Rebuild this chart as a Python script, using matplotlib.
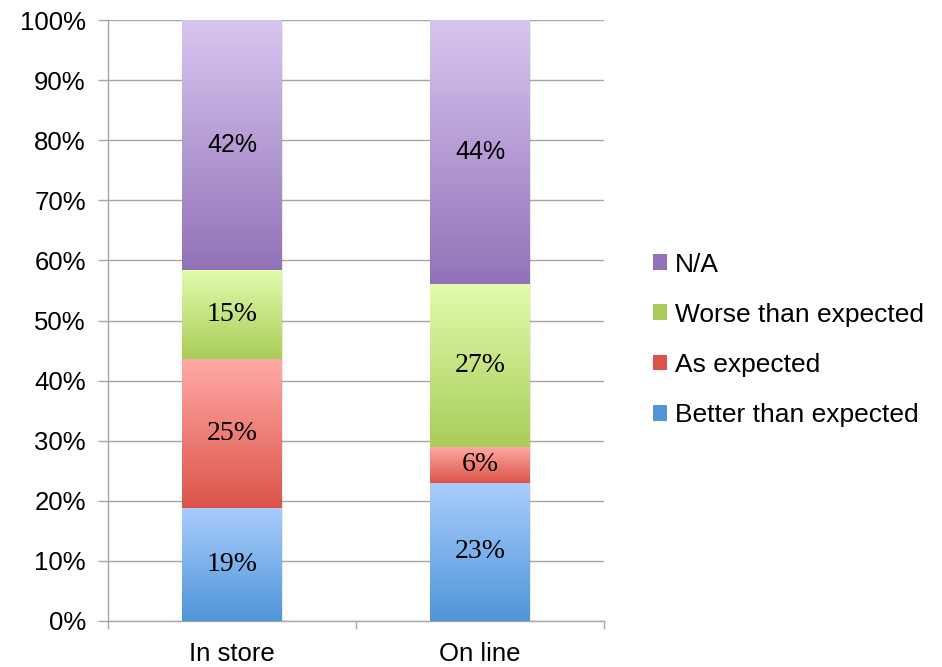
import numpy as np
import matplotlib.pyplot as plt
from matplotlib.colors import LinearSegmentedColormap
from matplotlib.patches import Patch
from matplotlib.ticker import MultipleLocator, FixedLocator, PercentFormatter

categories = ['In store', 'On line']
series = ['Better than expected', 'As expected', 'Worse than expected', 'N/A']
better = [19, 23]
as_expected = [25, 6]
worse = [15, 27]
na = [42, 44]

# (top colour, bottom colour) of each segment's gradient
grads = {
    'Better than expected': ('#aacdfd', '#4f95d8'),
    'As expected': ('#ffaaa6', '#dc5449'),
    'Worse than expected': ('#e2fbad', '#a9cd58'),
    'N/A': ('#d8c6f0', '#9272b8'),
}
label_fonts = {
    'Better than expected': ('Liberation Serif', 20),
    'As expected': ('Liberation Serif', 20),
    'Worse than expected': ('Liberation Serif', 20),
    'N/A': ('Liberation Sans', 18),
}

plt.rcParams['font.family'] = 'Liberation Sans'

fig = plt.figure(figsize=(9.42, 6.67), dpi=100)
ax = fig.add_axes([108 / 942, 1 - 621 / 667, 496 / 942, 601 / 667])

data = np.array([better, as_expected, worse, na], dtype=float)
totals = data.sum(axis=0)
shares = data / totals * 100  # 100% stacked
width = 0.4
grad = np.linspace(0, 1, 256).reshape(-1, 1)

for j, cat in enumerate(categories):
    bottom = 0
    # faint shadow behind the bar
    ax.add_patch(plt.Rectangle((j - width / 2 + 0.006, -0.5), width, 100.5,
                               color='#000000', alpha=0.08, lw=0, zorder=2))
    for i, name in enumerate(series):
        h = shares[i, j]
        top_c, bot_c = grads[name]
        cmap = LinearSegmentedColormap.from_list(name, [top_c, bot_c])
        ax.imshow(grad, cmap=cmap, aspect='auto', interpolation='bicubic',
                  extent=[j - width / 2, j + width / 2, bottom, bottom + h],
                  origin='upper', zorder=3)
        fam, size = label_fonts[name]
        ax.text(j, bottom + h / 2, f'{int(data[i, j])}%', ha='center', va='center',
                fontsize=size, fontfamily=fam, color='black', zorder=4)
        bottom += h

ax.set_xlim(-0.5, 1.5)
ax.set_ylim(0, 100)

ax.yaxis.set_major_locator(MultipleLocator(10))
ax.yaxis.set_major_formatter(PercentFormatter(decimals=0))
ax.grid(axis='y', color='#a6a6a6', lw=1, zorder=0)
ax.set_axisbelow(True)

ax.xaxis.set_major_locator(FixedLocator([-0.5, 0.5, 1.5]))
ax.xaxis.set_major_formatter(plt.NullFormatter())
ax.xaxis.set_minor_locator(FixedLocator([0, 1]))
ax.set_xticklabels(categories, minor=True)
ax.tick_params(axis='x', which='minor', length=0, pad=15, labelsize=18.5)
ax.tick_params(axis='x', which='major', length=6, color='#a6a6a6', width=1)
ax.tick_params(axis='y', length=7, color='#a6a6a6', width=1, labelsize=18.5, pad=9)

for s in ['top', 'right']:
    ax.spines[s].set_visible(False)
for s in ['left', 'bottom']:
    ax.spines[s].set_color('#a6a6a6')
    ax.spines[s].set_linewidth(1)

handles = [Patch(facecolor=grads[n][1], edgecolor='none') for n in reversed(series)]
leg = fig.legend(handles, list(reversed(series)), loc='upper left',
                 bbox_to_anchor=(642 / 942, 1 - 242 / 667), frameon=False,
                 fontsize=19, handlelength=0.55, handleheight=0.55,
                 handletextpad=0.3, labelspacing=0.99, borderaxespad=0)

fig.savefig('out.png', dpi=100)
